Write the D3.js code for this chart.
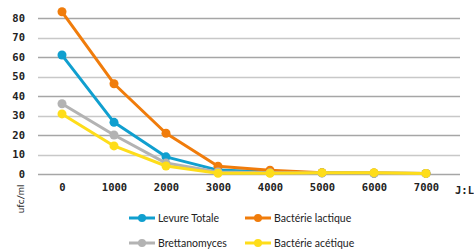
<!DOCTYPE html>
<html>
<head>
<meta charset="utf-8">
<script src="https://cdn.jsdelivr.net/npm/d3@7"></script>
<style>
  body { margin: 0; background: #fff; }
  svg { display: block; }
</style>
</head>
<body>
<div id="chart"></div>
<script>
// categories on the x axis
const categories = ["0", "1000", "2000", "3000", "4000", "5000", "6000", "7000"];
const yTicks = [0, 10, 20, 30, 40, 50, 60, 70, 80];

// series values (ufc/ml)
const levureTotale = [61, 26.5, 8.8, 2, 1, 0.6, 0.4, 0.3];
const bacterieLactique = [83.2, 46.3, 20.9, 4, 1.9, 0.7, 0.5, 0.3];
const brettanomyces = [36, 20, 5.6, 1, 0.6, 0.5, 0.4, 0.3];
const bacterieAcetique = [30.8, 14.4, 4.1, 0.4, 0.4, 0.7, 0.7, 0.3];

const seriesNames = ["Levure Totale", "Bactérie lactique", "Brettanomyces", "Bactérie acétique"];
const seriesColors = ["#109fcf", "#f07c0b", "#b3b3b3", "#fedd1a"];
const seriesValues = [levureTotale, bacterieLactique, brettanomyces, bacterieAcetique];

const width = 474, height = 249;

const svg = d3.select("#chart")
    .append("svg")
    .attr("width", width)
    .attr("height", height);

const x = d3.scalePoint().domain(categories).range([62, 426]);
const y = d3.scaleLinear().domain([0, 80]).range([174, 18]);

// Gridlines
svg.append("g")
    .selectAll("line")
    .data(yTicks)
    .enter().append("line")
    .attr("x1", 38)
    .attr("x2", 460)
    .attr("y1", d => Math.round(y(d)) + 0.5)
    .attr("y2", d => Math.round(y(d)) + 0.5)
    .attr("stroke", (d, i) => i % 2 ? "#c8c8c8" : "#a6a6a6")
    .attr("stroke-width", 1.5);

// Y axis labels
const yAxis = svg.append("g")
    .attr("transform", "translate(25,0)")
    .call(d3.axisLeft(y).tickValues(yTicks).tickSize(0).tickPadding(0));
yAxis.select(".domain").remove();
yAxis.selectAll("text")
    .attr("font-family", "DejaVu Sans Mono")
    .attr("font-size", 10.5)
    .attr("font-weight", "bold")
    .attr("fill", "#222");

// X axis labels
const xAxis = svg.append("g")
    .attr("transform", "translate(0,184)")
    .call(d3.axisBottom(x).tickSize(0).tickPadding(0));
xAxis.select(".domain").remove();
xAxis.selectAll("text")
    .attr("font-family", "DejaVu Sans Mono")
    .attr("font-size", 10.5)
    .attr("font-weight", "bold")
    .attr("fill", "#222");

svg.append("text")
    .attr("x", 455)
    .attr("y", 194)
    .attr("font-family", "DejaVu Sans Mono")
    .attr("font-size", 10.5)
    .attr("font-weight", "bold")
    .attr("fill", "#222")
    .text("J:L-J");

// Y title
svg.append("text")
    .attr("transform", "translate(24,199) rotate(-90)")
    .attr("text-anchor", "middle")
    .attr("font-family", "Lato")
    .attr("font-size", 10)
    .attr("fill", "#222")
    .text("ufc/ml");

// Lines
const line = d3.line()
    .x((d, i) => x(categories[i]))
    .y(d => y(d));

seriesValues.forEach((vals, s) => {
    svg.append("path")
        .datum(vals)
        .attr("fill", "none")
        .attr("stroke", seriesColors[s])
        .attr("stroke-width", 3)
        .attr("stroke-linejoin", "round")
        .attr("d", line);
    svg.append("g")
        .selectAll("circle")
        .data(vals)
        .enter().append("circle")
        .attr("cx", (d, i) => x(categories[i]))
        .attr("cy", d => y(d))
        .attr("r", 4.5)
        .attr("fill", seriesColors[s]);
});

// Legend
const legendPos = [[129, 218], [245, 218], [129, 243], [245, 243]];
seriesNames.forEach((name, i) => {
    const g = svg.append("g")
        .attr("transform", `translate(${legendPos[i][0]},${legendPos[i][1]})`);
    g.append("line")
        .attr("x1", 0).attr("x2", 26)
        .attr("stroke", seriesColors[i])
        .attr("stroke-width", 3);
    g.append("circle")
        .attr("cx", 13).attr("r", 4)
        .attr("fill", seriesColors[i]);
    g.append("text")
        .attr("x", 29)
        .attr("y", 3.5)
        .attr("font-family", "Lato")
        .attr("font-size", 10.5)
        .attr("fill", "#222")
        .text(name);
});
</script>
</body>
</html>
